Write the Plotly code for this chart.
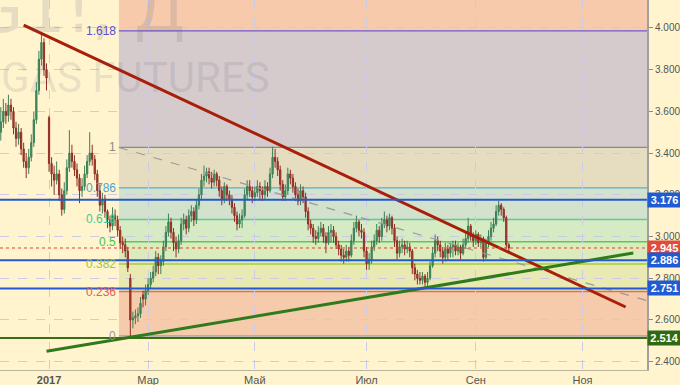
import pandas as pd
import plotly.graph_objects as go

# ---------------- data (daily OHLC, NG futures) ----------------
opens = [3.50,3.55,3.60,3.58,3.63,3.60,3.52,3.47,3.50,3.42,3.36,3.33,3.38,3.45,3.56,3.70,3.85,3.93,3.80,3.57,
         3.35,3.30,3.27,3.30,3.20,3.13,3.22,3.33,3.40,3.36,3.32,3.28,3.22,3.24,3.30,3.36,3.40,3.37,3.30,3.22,
         3.15,3.18,3.12,3.08,3.05,3.10,3.08,3.03,2.97,2.96,2.93,2.80,2.60,2.61,2.62,2.63,2.72,2.70,2.74,2.77,
         2.80,2.83,2.90,2.86,2.88,2.95,3.02,3.07,3.02,2.97,2.94,2.98,3.06,3.08,3.04,3.10,3.12,3.08,3.15,3.20,
         3.27,3.29,3.31,3.28,3.26,3.30,3.27,3.22,3.18,3.24,3.20,3.18,3.14,3.10,3.06,3.08,3.10,3.20,3.24,3.22,
         3.19,3.21,3.24,3.22,3.20,3.24,3.22,3.30,3.38,3.36,3.32,3.25,3.19,3.22,3.30,3.28,3.24,3.20,3.17,3.22,
         3.19,3.12,3.06,3.04,3.00,2.99,3.02,3.04,3.00,2.97,3.02,3.03,3.00,2.96,2.94,2.91,2.90,2.93,2.91,2.98,
         3.04,3.07,3.03,3.02,2.93,2.87,2.89,2.95,2.98,3.03,3.00,3.06,3.08,3.05,3.09,3.04,2.98,2.92,2.95,2.96,
         2.94,2.95,2.93,2.85,2.82,2.80,2.79,2.81,2.78,2.80,2.86,2.92,2.98,2.96,2.93,2.90,2.94,2.92,2.95,2.96,
         2.93,2.95,2.92,2.96,2.99,3.05,3.00,2.98,3.01,2.97,2.99,2.90,2.97,3.00,3.04,3.06,3.12,3.15,3.13,3.09,
         2.96]
highs = [3.62,3.66,3.64,3.68,3.66,3.62,3.55,3.54,3.52,3.45,3.40,3.42,3.49,3.60,3.74,3.89,3.98,3.95,3.83,3.58,
         3.38,3.34,3.36,3.32,3.23,3.26,3.37,3.51,3.44,3.39,3.35,3.30,3.28,3.34,3.39,3.50,3.44,3.39,3.32,3.25,
         3.21,3.20,3.13,3.10,3.14,3.13,3.10,3.05,3.00,2.99,2.95,2.82,2.64,2.65,2.66,2.71,2.74,2.77,2.80,2.83,
         2.86,2.93,2.92,2.91,2.98,3.05,3.11,3.09,3.04,3.00,3.01,3.09,3.11,3.10,3.13,3.15,3.14,3.18,3.23,3.30,
         3.34,3.33,3.33,3.31,3.32,3.31,3.29,3.24,3.26,3.25,3.22,3.20,3.16,3.12,3.11,3.13,3.23,3.27,3.27,3.24,
         3.24,3.27,3.26,3.24,3.27,3.26,3.33,3.43,3.42,3.38,3.34,3.27,3.25,3.33,3.32,3.30,3.26,3.23,3.25,3.24,
         3.21,3.14,3.08,3.06,3.03,3.05,3.07,3.06,3.02,3.05,3.06,3.05,3.02,2.98,2.96,2.94,2.96,2.95,3.01,3.07,
         3.10,3.08,3.06,3.04,2.95,2.92,2.98,3.01,3.06,3.05,3.09,3.12,3.10,3.11,3.10,3.06,3.00,2.98,2.99,2.98,
         2.98,2.97,2.94,2.87,2.84,2.83,2.83,2.82,2.83,2.88,2.95,3.01,3.00,2.98,2.95,2.97,2.96,2.97,2.98,2.98,
         2.97,2.96,2.99,3.02,3.09,3.06,3.02,3.03,3.02,3.01,3.00,2.99,3.03,3.07,3.09,3.15,3.17,3.16,3.14,3.10,
         2.97]
lows = [3.46,3.52,3.54,3.55,3.56,3.49,3.43,3.44,3.39,3.33,3.28,3.30,3.36,3.43,3.54,3.68,3.82,3.77,3.70,3.31,
        3.24,3.20,3.25,3.17,3.10,3.11,3.20,3.31,3.33,3.29,3.24,3.16,3.19,3.22,3.28,3.34,3.34,3.27,3.19,3.12,
        3.11,3.09,3.04,3.02,3.03,3.05,3.00,2.94,2.92,2.90,2.83,2.52,2.56,2.58,2.59,2.61,2.66,2.67,2.72,2.75,
        2.78,2.81,2.82,2.82,2.86,2.93,3.00,2.99,2.93,2.90,2.92,2.96,3.03,3.01,3.02,3.07,3.05,3.06,3.13,3.18,
        3.24,3.26,3.25,3.23,3.24,3.24,3.19,3.15,3.16,3.17,3.15,3.11,3.07,3.03,3.04,3.04,3.09,3.18,3.19,3.16,
        3.17,3.19,3.18,3.17,3.18,3.19,3.21,3.28,3.33,3.29,3.22,3.17,3.17,3.20,3.25,3.21,3.17,3.15,3.15,3.16,
        3.09,3.03,3.01,2.97,2.96,2.97,3.00,2.97,2.92,2.96,2.97,2.97,2.94,2.91,2.88,2.87,2.88,2.88,2.90,2.96,
        3.02,3.00,2.99,2.90,2.84,2.84,2.87,2.93,2.96,2.97,2.98,3.04,3.02,3.03,3.01,2.95,2.89,2.90,2.92,2.91,
        2.92,2.90,2.82,2.79,2.77,2.77,2.77,2.76,2.76,2.79,2.85,2.90,2.93,2.90,2.87,2.88,2.89,2.90,2.90,2.91,
        2.91,2.89,2.91,2.94,2.97,2.98,2.95,2.96,2.95,2.95,2.88,2.89,2.95,2.98,3.02,3.05,3.10,3.10,3.07,2.94,
        2.93]
closes = [3.55,3.60,3.58,3.63,3.60,3.52,3.47,3.50,3.42,3.36,3.33,3.38,3.45,3.56,3.70,3.85,3.93,3.80,3.76,3.35,
          3.30,3.27,3.30,3.20,3.13,3.22,3.33,3.40,3.36,3.32,3.28,3.22,3.24,3.30,3.36,3.40,3.37,3.30,3.22,3.15,
          3.18,3.12,3.08,3.05,3.10,3.08,3.03,2.97,2.96,2.93,2.85,2.60,2.61,2.62,2.63,2.68,2.70,2.74,2.77,2.80,
          2.83,2.90,2.86,2.88,2.95,3.02,3.07,3.02,2.97,2.94,2.98,3.06,3.08,3.04,3.10,3.12,3.08,3.15,3.20,3.27,
          3.29,3.31,3.28,3.26,3.30,3.27,3.22,3.18,3.24,3.20,3.18,3.14,3.10,3.06,3.08,3.10,3.20,3.24,3.22,3.19,
          3.21,3.24,3.22,3.20,3.24,3.22,3.30,3.38,3.36,3.32,3.25,3.19,3.22,3.30,3.28,3.24,3.20,3.17,3.22,3.19,
          3.12,3.06,3.04,3.00,2.99,3.02,3.04,3.00,2.97,3.02,3.03,3.00,2.96,2.94,2.91,2.90,2.93,2.91,2.98,3.04,
          3.07,3.03,3.02,2.93,2.87,2.89,2.95,2.98,3.03,3.00,3.06,3.08,3.05,3.09,3.04,2.98,2.92,2.95,2.96,2.94,
          2.95,2.93,2.85,2.82,2.80,2.79,2.81,2.78,2.80,2.86,2.92,2.98,2.96,2.93,2.90,2.94,2.92,2.95,2.96,2.93,
          2.95,2.92,2.96,2.99,3.05,3.00,2.98,3.01,2.97,2.99,2.90,2.97,3.00,3.04,3.06,3.12,3.15,3.13,3.09,2.96,
          2.945]

first_day = "2016-12-05"
exchange_holidays = ["2016-12-26", "2017-01-02", "2017-01-16", "2017-02-20", "2017-04-14",
                     "2017-05-29", "2017-07-04", "2017-09-04", "2017-11-23"]
tick_months = ["2017-01-01", "2017-03-01", "2017-05-01", "2017-07-01", "2017-09-01", "2017-11-01"]
tick_labels = ["<b>2017</b>", "Мар", "Май", "Июл", "Сен", "Ноя"]

fib_levels = [0, 0.236, 0.382, 0.5, 0.618, 0.786, 1, 1.618]
fib_labels = ["0", "0.236", "0.382", "0.5", "0.618", "0.786", "1", "1.618"]
fib_low, fib_high = 2.523, 3.427
fib_start = "2017-02-13"

level_lines = [3.176, 2.886, 2.751]
support_line = 2.514
last_price = 2.945

red_trend_dates, red_trend_prices = ["2016-12-16", "2017-11-27"], [4.014, 2.662]
green_trend_dates, green_trend_prices = ["2016-12-30", "2017-11-30"], [2.450, 2.921]
fib_trend_dates, fib_trend_prices = ["2017-02-13", "2017-12-05"], [3.427, 2.701]

# ---------------- styles ----------------
BG = "#FFF4CE"
zone_colors = ["#F5CBAC", "#E9EAB3", "#DCEBBC", "#D6EBC3", "#D3E2CC", "#E6DCC0", "#D5CBCC"]
top_zone_color = "#F6CAAA"
fib_line_colors = ["#A8A0A0", "#E86A5A", "#A8CC3A", "#55CC55", "#5BCB9B", "#5AACD2", "#8A8A8A", "#6A5ADD"]
fib_text_colors = ["#9A9A9A", "#E85A55", "#A5C733", "#44C844", "#44C995", "#4EA3D3", "#8A8A8A", "#5B4FDB"]
FONT = "Liberation Sans"

calendar = pd.bdate_range(first_day, periods=262, freq="C", holidays=exchange_holidays)


def bar_of(d):
    return int(calendar.searchsorted(pd.Timestamp(d)))


x = list(range(len(closes)))
x_min, x_max = -0.31, 254.4
y_min, y_max = 2.360, 4.134

fig = go.Figure()
fig.add_trace(go.Candlestick(
    x=x, open=opens, high=highs, low=lows, close=closes,
    increasing=dict(fillcolor="#3F9160", line=dict(color="#3C7F57", width=1)),
    decreasing=dict(fillcolor="#B33A2C", line=dict(color="#8E2F25", width=1)),
    whiskerwidth=0, hoverinfo="skip", showlegend=False))

# fib zones / lines
fx0 = bar_of(fib_start) - 0.5
shapes = []
prices = [fib_low + lv * (fib_high - fib_low) for lv in fib_levels]
for i in range(len(prices) - 1):
    shapes.append(dict(type="rect", xref="x", yref="y", x0=fx0, x1=x_max, y0=prices[i], y1=prices[i + 1],
                       fillcolor=zone_colors[i], line=dict(width=0), layer="below"))
shapes.append(dict(type="rect", xref="x", yref="paper", x0=fx0, x1=x_max, y0=(prices[-1] - y_min) / (y_max - y_min),
                   y1=1, fillcolor=top_zone_color, line=dict(width=0), layer="below"))
for p, c in zip(prices, fib_line_colors):
    shapes.append(dict(type="line", xref="x", yref="y", x0=fx0, x1=x_max, y0=p, y1=p,
                       line=dict(color=c, width=1.3), layer="below"))

annotations = []
for p, t, c in zip(prices, fib_labels, fib_text_colors):
    annotations.append(dict(x=fx0, y=p, xref="x", yref="y", text=t, showarrow=False, xanchor="right",
                            yanchor="middle", xshift=-1, font=dict(family=FONT, size=12, color=c)))

# horizontal levels
shapes.append(dict(type="line", xref="paper", yref="y", x0=0, x1=1, y0=last_price, y1=last_price,
                   line=dict(color="#E0402F", width=1, dash="dot"), layer="above"))
for p in level_lines:
    shapes.append(dict(type="line", xref="paper", yref="y", x0=0, x1=1, y0=p, y1=p,
                       line=dict(color="#2458CC", width=2), layer="above"))
shapes.append(dict(type="line", xref="paper", yref="y", x0=0, x1=1, y0=support_line, y1=support_line,
                   line=dict(color="#3A6E14", width=2), layer="above"))

# fib dashed trend (extended to the right edge)
fa, fb = bar_of(fib_trend_dates[0]) - 0.5, bar_of(fib_trend_dates[1])
slope = (fib_trend_prices[1] - fib_trend_prices[0]) / (fb - fa)
fig.add_trace(go.Scatter(x=[fa, x_max], y=[fib_trend_prices[0], fib_trend_prices[0] + slope * (x_max - fa)],
                         mode="lines", line=dict(color="#9A9A9A", width=1.2, dash="dash"),
                         hoverinfo="skip", showlegend=False))
fig.add_trace(go.Scatter(x=[bar_of(d) for d in red_trend_dates], y=red_trend_prices, mode="lines",
                         line=dict(color="#A81E08", width=3), hoverinfo="skip", showlegend=False))
fig.add_trace(go.Scatter(x=[bar_of(d) for d in green_trend_dates], y=green_trend_prices, mode="lines",
                         line=dict(color="#2E7A1C", width=3), hoverinfo="skip", showlegend=False))

# right-side price tags
for p, bg in [(3.176, "#1F5BD3"), (last_price, "#E04B3A"), (2.886, "#1F5BD3"), (2.751, "#1F5BD3"),
              (support_line, "#2F6A12")]:
    annotations.append(dict(x=1, y=p, xref="paper", yref="y", text=f"<b>{p:.3f}</b>", showarrow=False,
                            xanchor="left", yanchor="middle", bgcolor=bg, borderpad=1, width=31,
                            font=dict(family=FONT, size=11, color="white")))

# watermark
annotations.append(dict(x=188 / 647, y=1 - 50 / 370, xref="paper", yref="paper", text="NG1!, Д",
                        showarrow=False, xanchor="right", yanchor="bottom",
                        font=dict(family="DejaVu Sans", size=66, color="rgba(90,90,120,0.15)")))
annotations.append(dict(x=272 / 647, y=1 - 104 / 370, xref="paper", yref="paper", text="GAS FUTURES",
                        showarrow=False, xanchor="right", yanchor="bottom",
                        font=dict(family="Roboto", size=42, color="rgba(90,90,120,0.15)")))

fig.update_layout(
    width=680, height=385, margin=dict(l=0, r=33, t=0, b=15, autoexpand=False),
    paper_bgcolor=BG, plot_bgcolor=BG, shapes=shapes, annotations=annotations,
    font=dict(family=FONT, size=10, color="#555555"), showlegend=False,
    xaxis=dict(range=[x_min, x_max], tickvals=[bar_of(d) for d in tick_months], ticktext=tick_labels,
               showgrid=True, gridcolor="#CDCAE6", griddash="dash", gridwidth=1, zeroline=False,
               rangeslider=dict(visible=False), ticks="", showline=True, linecolor="#B8B4A0",
               automargin=False, ticklabelstandoff=0,
               tickfont=dict(family=FONT, size=11, color="#555555"), fixedrange=True),
    yaxis=dict(range=[y_min, y_max], side="right", dtick=0.2, tick0=2.4, tickformat=".3f",
               showgrid=True, gridcolor="#CDCAE6", griddash="dash", gridwidth=1, zeroline=False,
               ticks="outside", ticklen=4, tickcolor="#8A8A8A", showline=True, linecolor="#A0A0A0",
               linewidth=2, automargin=False,
               tickfont=dict(family=FONT, size=10, color="#555555"), fixedrange=True),
)

fig.write_html("out.html", config={"displayModeBar": False},
               post_script="document.body.style.margin='0px';document.body.style.overflow='hidden';")
